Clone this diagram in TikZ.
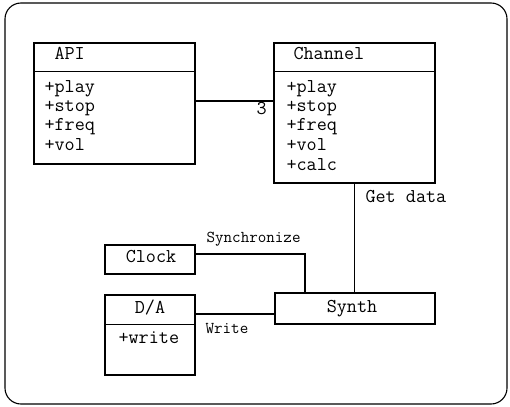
\documentclass[tikz,border=0pt]{standalone}
\usetikzlibrary{calc}
\begin{document}
\begin{tikzpicture}[x=1pt,y=-1pt,line width=1.1pt,
  cls/.style={draw,rectangle,inner sep=0pt},
  big/.style={inner sep=0pt,font=\ttfamily\fontsize{19.6}{22}\selectfont},
  small/.style={inner sep=0pt,font=\ttfamily\fontsize{16.6}{19}\selectfont}]
\useasboundingbox (0,0) rectangle (510,406);
% frame
\draw[rounded corners=16pt] (5,3) rectangle (507,404);
% boxes
\node[cls,minimum width=161pt,minimum height=121pt] (API) at (114.5,103.5) {};
\node[cls,minimum width=161pt,minimum height=140pt] (Ch) at (354.5,113) {};
\node[cls,minimum width=90pt,minimum height=29pt] (Clock) at (150,259.5) {};
\node[cls,minimum width=90pt,minimum height=80pt] (DA) at (150,335) {};
\node[cls,minimum width=160pt,minimum height=31pt] (Synth) at (355,308.5) {};
% separators
\draw ($(API.north west)+(0,29)$) -- ($(API.north east)+(0,29)$);
\draw ($(Ch.north west)+(0,29)$) -- ($(Ch.north east)+(0,29)$);
\draw ($(DA.north west)+(0,30)$) -- ($(DA.north east)+(0,30)$);
% texts
\node[big,anchor=mid west] (tAPI) at (54,57) {API};
\node[big,anchor=mid west] (a1) at (44,90) {+play};
\node[big,anchor=mid west] (a2) at (44,109) {+stop};
\node[big,anchor=mid west] (a3) at (44,128.5) {+freq};
\node[big,anchor=mid west] (a4) at (44,148) {+vol};
\node[big,anchor=mid west] (tCh) at (293,57) {Channel};
\node[big,anchor=mid west] (c1) at (286,90) {+play};
\node[big,anchor=mid west] (c2) at (286,109) {+stop};
\node[big,anchor=mid west] (c3) at (286,128.5) {+freq};
\node[big,anchor=mid west] (c4) at (286,148) {+vol};
\node[big,anchor=mid west] (c5) at (286,168) {+calc};
\node[big,anchor=mid] (tClock) at (151,260) {Clock};
\node[big,anchor=mid] (tDA) at (150,311) {D/A};
\node[big,anchor=mid west] (d1) at (118,341) {+write};
\node[big,anchor=mid] (tSynth) at (352,310) {Synth};
% connectors
\coordinate (yA) at (0,101);
\coordinate (yC) at (305,254);
\coordinate (yD) at (0,314);
\draw (API.east |- yA) -- (Ch.west |- yA);
\draw (Ch.south) -- (Ch.south |- Synth.north);
\draw (Clock.east |- yC) -- (yC) -- (yC |- Synth.north);
\draw (DA.east |- yD) -- (Synth.west |- yD);
% labels
\node[big,anchor=mid west] (l3) at (256,112) {3};
\node[big,anchor=mid west] (lget) at (365,200) {Get data};
\node[small,anchor=mid west] (lsync) at (206,240) {Synchronize};
\node[small,anchor=mid west] (lw) at (205,331) {Write};
\end{tikzpicture}
\end{document}
